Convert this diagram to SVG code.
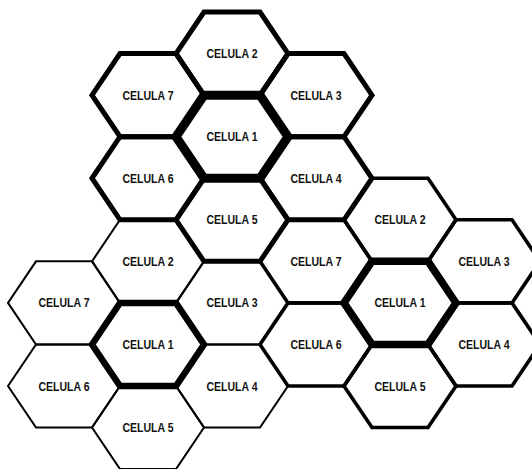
<svg xmlns="http://www.w3.org/2000/svg" xmlns:xlink="http://www.w3.org/1999/xlink" width="532" height="469" viewBox="0 0 532 469">
<style>
.hx{fill:none;stroke:#000;stroke-linejoin:miter}
.thin{stroke-width:2}
.mid{stroke-width:3.6}
.thick{stroke-width:5}
.c1a{stroke-width:6.5}
.c1b{stroke-width:7.5}
.c1c{stroke-width:9}
text{font-family:"Liberation Sans",Arial,sans-serif;font-size:12.5px;font-weight:bold;fill:#111;text-anchor:middle}
</style>
<defs>
<polygon id="hex" points="-56,0 -28,-41.55 28,-41.55 56,0 28,41.55 -28,41.55"/>
</defs>
<rect width="532" height="469" fill="#fff"/>
<g id="connectors"/>
<!-- bottom-left cluster -->
<g id="bl-c2" transform="translate(148,261.35)"><use xlink:href="#hex" class="hx thin"/><text y="4.5" textLength="51" lengthAdjust="spacingAndGlyphs">CELULA 2</text></g>
<g id="bl-c7" transform="translate(64,302.9)"><use xlink:href="#hex" class="hx thin"/><text y="4.5" textLength="51" lengthAdjust="spacingAndGlyphs">CELULA 7</text></g>
<g id="bl-c3" transform="translate(232,302.9)"><use xlink:href="#hex" class="hx thin"/><text y="4.5" textLength="51" lengthAdjust="spacingAndGlyphs">CELULA 3</text></g>
<g id="bl-c6" transform="translate(64,386)"><use xlink:href="#hex" class="hx thin"/><text y="4.5" textLength="51" lengthAdjust="spacingAndGlyphs">CELULA 6</text></g>
<g id="bl-c4" transform="translate(232,386)"><use xlink:href="#hex" class="hx thin"/><text y="4.5" textLength="51" lengthAdjust="spacingAndGlyphs">CELULA 4</text></g>
<g id="bl-c5" transform="translate(148,427.55)"><use xlink:href="#hex" class="hx thin"/><text y="4.5" textLength="51" lengthAdjust="spacingAndGlyphs">CELULA 5</text></g>
<g id="bl-c1" transform="translate(148,344.45)"><use xlink:href="#hex" class="hx c1a"/><text y="4.5" textLength="51" lengthAdjust="spacingAndGlyphs">CELULA 1</text></g>
<!-- right cluster -->
<g id="r-c2" transform="translate(400,219.8)"><use xlink:href="#hex" class="hx mid"/><text y="4.5" textLength="51" lengthAdjust="spacingAndGlyphs">CELULA 2</text></g>
<g id="r-c7" transform="translate(316,261.35)"><use xlink:href="#hex" class="hx mid"/><text y="4.5" textLength="51" lengthAdjust="spacingAndGlyphs">CELULA 7</text></g>
<g id="r-c3" transform="translate(484,261.35)"><use xlink:href="#hex" class="hx mid"/><text y="4.5" textLength="51" lengthAdjust="spacingAndGlyphs">CELULA 3</text></g>
<g id="r-c6" transform="translate(316,344.45)"><use xlink:href="#hex" class="hx mid"/><text y="4.5" textLength="51" lengthAdjust="spacingAndGlyphs">CELULA 6</text></g>
<g id="r-c4" transform="translate(484,344.45)"><use xlink:href="#hex" class="hx mid"/><text y="4.5" textLength="51" lengthAdjust="spacingAndGlyphs">CELULA 4</text></g>
<g id="r-c5" transform="translate(400,386)"><use xlink:href="#hex" class="hx mid"/><text y="4.5" textLength="51" lengthAdjust="spacingAndGlyphs">CELULA 5</text></g>
<g id="r-c1" transform="translate(400,302.9)"><use xlink:href="#hex" class="hx c1b"/><text y="4.5" textLength="51" lengthAdjust="spacingAndGlyphs">CELULA 1</text></g>
<!-- top cluster -->
<g id="t-c2" transform="translate(232,53.6)"><use xlink:href="#hex" class="hx thick"/><text y="4.5" textLength="51" lengthAdjust="spacingAndGlyphs">CELULA 2</text></g>
<g id="t-c7" transform="translate(148,95.15)"><use xlink:href="#hex" class="hx thick"/><text y="4.5" textLength="51" lengthAdjust="spacingAndGlyphs">CELULA 7</text></g>
<g id="t-c3" transform="translate(316,95.15)"><use xlink:href="#hex" class="hx thick"/><text y="4.5" textLength="51" lengthAdjust="spacingAndGlyphs">CELULA 3</text></g>
<g id="t-c6" transform="translate(148,178.25)"><use xlink:href="#hex" class="hx thick"/><text y="4.5" textLength="51" lengthAdjust="spacingAndGlyphs">CELULA 6</text></g>
<g id="t-c4" transform="translate(316,178.25)"><use xlink:href="#hex" class="hx thick"/><text y="4.5" textLength="51" lengthAdjust="spacingAndGlyphs">CELULA 4</text></g>
<g id="t-c5" transform="translate(232,219.8)"><use xlink:href="#hex" class="hx thick"/><text y="4.5" textLength="51" lengthAdjust="spacingAndGlyphs">CELULA 5</text></g>
<g id="t-c1" transform="translate(232,136.7)"><use xlink:href="#hex" class="hx c1c"/><text y="4.5" textLength="51" lengthAdjust="spacingAndGlyphs">CELULA 1</text></g>
</svg>
